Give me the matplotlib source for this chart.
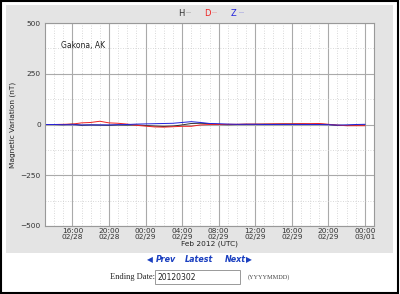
import numpy as np
import pandas as pd
import matplotlib.pyplot as plt
import matplotlib.dates as mdates
from matplotlib.patches import Rectangle

# hourly samples, 13:00 02/28 .. 00:00 03/01 (UTC)
times = pd.date_range('2012-02-28 13:00', '2012-03-01 00:00', freq='h')

h_vals = [0, 0, -1, 2, -4, -2, -3, -4, -2, -3, -2, -5, -8, -10, -8, -2, 5, 6,
          4, 0, -1, 0, 1, 1, 2, 2, 3, 3, 3, 2, 2, 0, -4, -4, -3, -2]
d_vals = [0, 0, 1, 2, 8, 10, 16, 8, 6, 2, -4, -8, -12, -13, -11, -9, -9, -2,
          0, 0, 1, 1, 2, 2, 2, 3, 3, 3, 4, 4, 5, 1, -3, -6, -6, -6]
z_vals = [0, 0, -1, -1, -2, -2, -2, -2, -1, 0, 2, 3, 4, 5, 6, 10, 14, 10,
          5, 4, 2, 1, 1, 1, 0, 0, 0, 0, 0, 0, 0, -1, -3, -2, 0, 1]

station = 'Gakona, AK'
ending_date = '20120302'

fig = plt.figure(figsize=(4.0, 2.94), dpi=100)
fig.patch.set_facecolor('white')

# background layer: outer black frame, grey panel, date box
bg = fig.add_axes([0, 0, 1, 1], zorder=-1)
bg.set_xlim(0, 400)
bg.set_ylim(294, 0)
bg.axis('off')
bg.add_patch(Rectangle((1, 1), 397, 292, fill=False, edgecolor='black', linewidth=1.5))
bg.add_patch(Rectangle((6, 5), 387, 248, facecolor='#e4e4e4', edgecolor='none'))
bg.add_patch(Rectangle((155, 270), 85, 14, facecolor='white', edgecolor='#999999', linewidth=0.7))

ax = fig.add_axes([45/400, 1 - 226/294, 329/400, 203/294], zorder=2)
ax.set_facecolor('white')

ax.plot(times, h_vals, color='#333333', lw=0.7)
ax.plot(times, d_vals, color='#ee2222', lw=0.7)
ax.plot(times, z_vals, color='#2222dd', lw=0.7)

ax.set_xlim(pd.Timestamp('2012-02-28 13:00'), pd.Timestamp('2012-03-01 01:00'))
ax.set_ylim(-500, 500)
ax.set_yticks([-500, -250, 0, 250, 500])
ax.set_yticks([-375, -125, 125, 375], minor=True)
ax.xaxis.set_major_locator(mdates.HourLocator(byhour=[0, 4, 8, 12, 16, 20]))
ax.xaxis.set_minor_locator(mdates.HourLocator())
ax.xaxis.set_major_formatter(mdates.DateFormatter('%H:%M\n%m/%d'))

ax.grid(True, which='major', color='#aaaaaa', lw=0.8)
ax.grid(True, which='minor', color='#cccccc', lw=0.6, linestyle=(0, (1, 2)))
ax.tick_params(which='both', length=0, labelsize=5.3, labelcolor='#333333', pad=3)
ax.tick_params(axis='x', pad=1.5)
for lbl in ax.get_xticklabels():
    lbl.set_linespacing(1.0)
for s in ax.spines.values():
    s.set_color('#999999')
    s.set_linewidth(0.8)

ax.set_ylabel('Magnetic Variation (nT)', fontsize=5.3, color='#222222', labelpad=3)
ax.set_xlabel('Feb 2012 (UTC)', fontsize=5.3, color='#222222', labelpad=0)
ax.text(0.05, 0.875, station, transform=ax.transAxes, fontsize=5.5, color='#222222')

# legend row at top
for lab, x0, col in [('H', 178, '#333333'), ('D', 204, '#ee2222'), ('Z', 231, '#2222dd')]:
    fig.text(x0/400, 1 - 13/294, lab, fontsize=6, color=col, va='center')
    fig.text((x0 + 8)/400, 1 - 13/294, '---', fontsize=4, color=col, alpha=0.6, va='center')

# navigation links
nav_y = 1 - 260/294
blue = '#1a3fc0'
fig.text(147/400, nav_y, '\u25c0', fontsize=5.5, color=blue, va='center')
fig.text(156/400, nav_y, 'Prev', fontsize=5.8, color=blue, va='center', style='italic', weight='bold')
fig.text(185/400, nav_y, 'Latest', fontsize=5.8, color=blue, va='center', style='italic', weight='bold')
fig.text(225/400, nav_y, 'Next', fontsize=5.8, color=blue, va='center', style='italic', weight='bold')
fig.text(246/400, nav_y, '\u25b6', fontsize=5.5, color=blue, va='center')

# date form
form_y = 1 - 277/294
fig.text(110/400, form_y, 'Ending Date:', fontsize=6, family='Liberation Serif', color='#222222', va='center')
fig.text(158/400, form_y, ending_date, fontsize=5.5, color='#222222', va='center')
fig.text(248/400, form_y, '(YYYYMMDD)', fontsize=4.5, family='Liberation Serif', color='#444444', va='center')

fig.savefig('out.png', dpi=100)
